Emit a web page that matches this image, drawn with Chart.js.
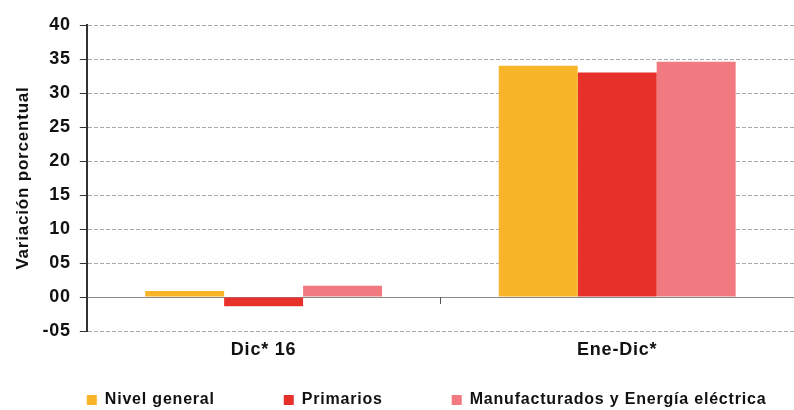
<!DOCTYPE html>
<html>
<head>
<meta charset="utf-8">
<script src="https://cdn.jsdelivr.net/npm/chart.js@4"></script>
<style>
  body { margin: 0; background: #fff; }
  #wrap { width: 794px; height: 410px; }
</style>
</head>
<body>
<div id="wrap"><canvas id="chart"></canvas></div>
<script>
let categories = ["Dic* 16", "Ene-Dic*"];
let seriesNames = ["Nivel general", "Primarios", "Manufacturados y Energía eléctrica"];
let nivelGeneral = [0.9, 34.0];
let primarios = [-1.35, 33.0];
let manufacturados = [1.65, 34.6];
let colors = ["#F9B52A", "#E8302A", "#F07A80"];

let font = "'Liberation Sans', Arial, sans-serif";

// text in the picture is slightly spaced out
let spacing = {
  id: "spacing",
  beforeUpdate(chart) {
    chart.ctx.letterSpacing = "0.8px";
  },
  beforeDraw(chart) {
    chart.ctx.letterSpacing = "0.8px";
  }
};

// legend starts under the y axis, not centred
let legendShift = {
  id: "legendShift",
  afterLayout(chart) {
    let lg = chart.legend;
    let w = lg.right - lg.left;
    lg.left = chart.chartArea.left - 6;
    lg.right = lg.left + w;
  }
};

// small tick between the two groups, under the zero line
let midTick = {
  id: "midTick",
  afterDatasetsDraw(chart) {
    let ctx = chart.ctx;
    let x = Math.round(chart.scales.x.getPixelForValue(0.5)) + 0.5;
    let y = chart.scales.y.getPixelForValue(0);
    ctx.save();
    ctx.strokeStyle = "#555";
    ctx.lineWidth = 1;
    ctx.beginPath();
    ctx.moveTo(x, y);
    ctx.lineTo(x, y + 7);
    ctx.stroke();
    ctx.restore();
  }
};

new Chart(document.getElementById("chart"), {
  type: "bar",
  data: {
    labels: categories,
    datasets: [
      { label: seriesNames[0], data: nivelGeneral, backgroundColor: colors[0] },
      { label: seriesNames[1], data: primarios, backgroundColor: colors[1] },
      { label: seriesNames[2], data: manufacturados, backgroundColor: colors[2] }
    ]
  },
  options: {
    responsive: true,
    maintainAspectRatio: false,
    animation: false,
    layout: { padding: { left: 0, right: 0, top: 25, bottom: -8 } },
    datasets: { bar: { categoryPercentage: 0.67, barPercentage: 1 } },
    plugins: {
      legend: {
        position: "bottom",
        align: "start",
        labels: {
          boxWidth: 10,
          boxHeight: 10,
          padding: 6,
          color: "#111",
          font: { family: font, size: 16, weight: "bold" },
          generateLabels(chart) {
            let items = Chart.defaults.plugins.legend.labels.generateLabels(chart);
            items.forEach((it, i) => {
              if (i < items.length - 1) it.text = it.text + " ".repeat(12);
            });
            return items;
          }
        }
      },
      tooltip: { enabled: false }
    },
    scales: {
      x: {
        grid: { display: false, drawTicks: false },
        border: { display: false },
        ticks: {
          color: "#111",
          padding: 8,
          font: { family: font, size: 18, weight: "bold" }
        },
        afterFit(scale) { scale.height = 55; }
      },
      y: {
        min: -5,
        max: 40,
        ticks: {
          stepSize: 5,
          color: "#111",
          padding: 9,
          font: { family: font, size: 18, weight: "bold" },
          callback: v => (v < 0 ? "-" : "") + String(Math.abs(v)).padStart(2, "0")
        },
        grid: {
          color: c => c.tick && c.tick.value === 0 ? "#888" : "#aaa",
          lineWidth: 1,
          tickLength: 7,
          tickColor: "#333"
        },
        border: {
          display: true,
          color: "#333",
          width: 2,
          dash: c => c.tick && c.tick.value === 0 ? [] : [4, 2]
        },
        title: {
          display: true,
          text: "Variación porcentual",
          color: "#111",
          padding: { top: 13, bottom: 0 },
          font: { family: font, size: 17, weight: "bold" }
        }
      }
    }
  },
  plugins: [spacing, legendShift, midTick]
});
</script>
</body>
</html>
